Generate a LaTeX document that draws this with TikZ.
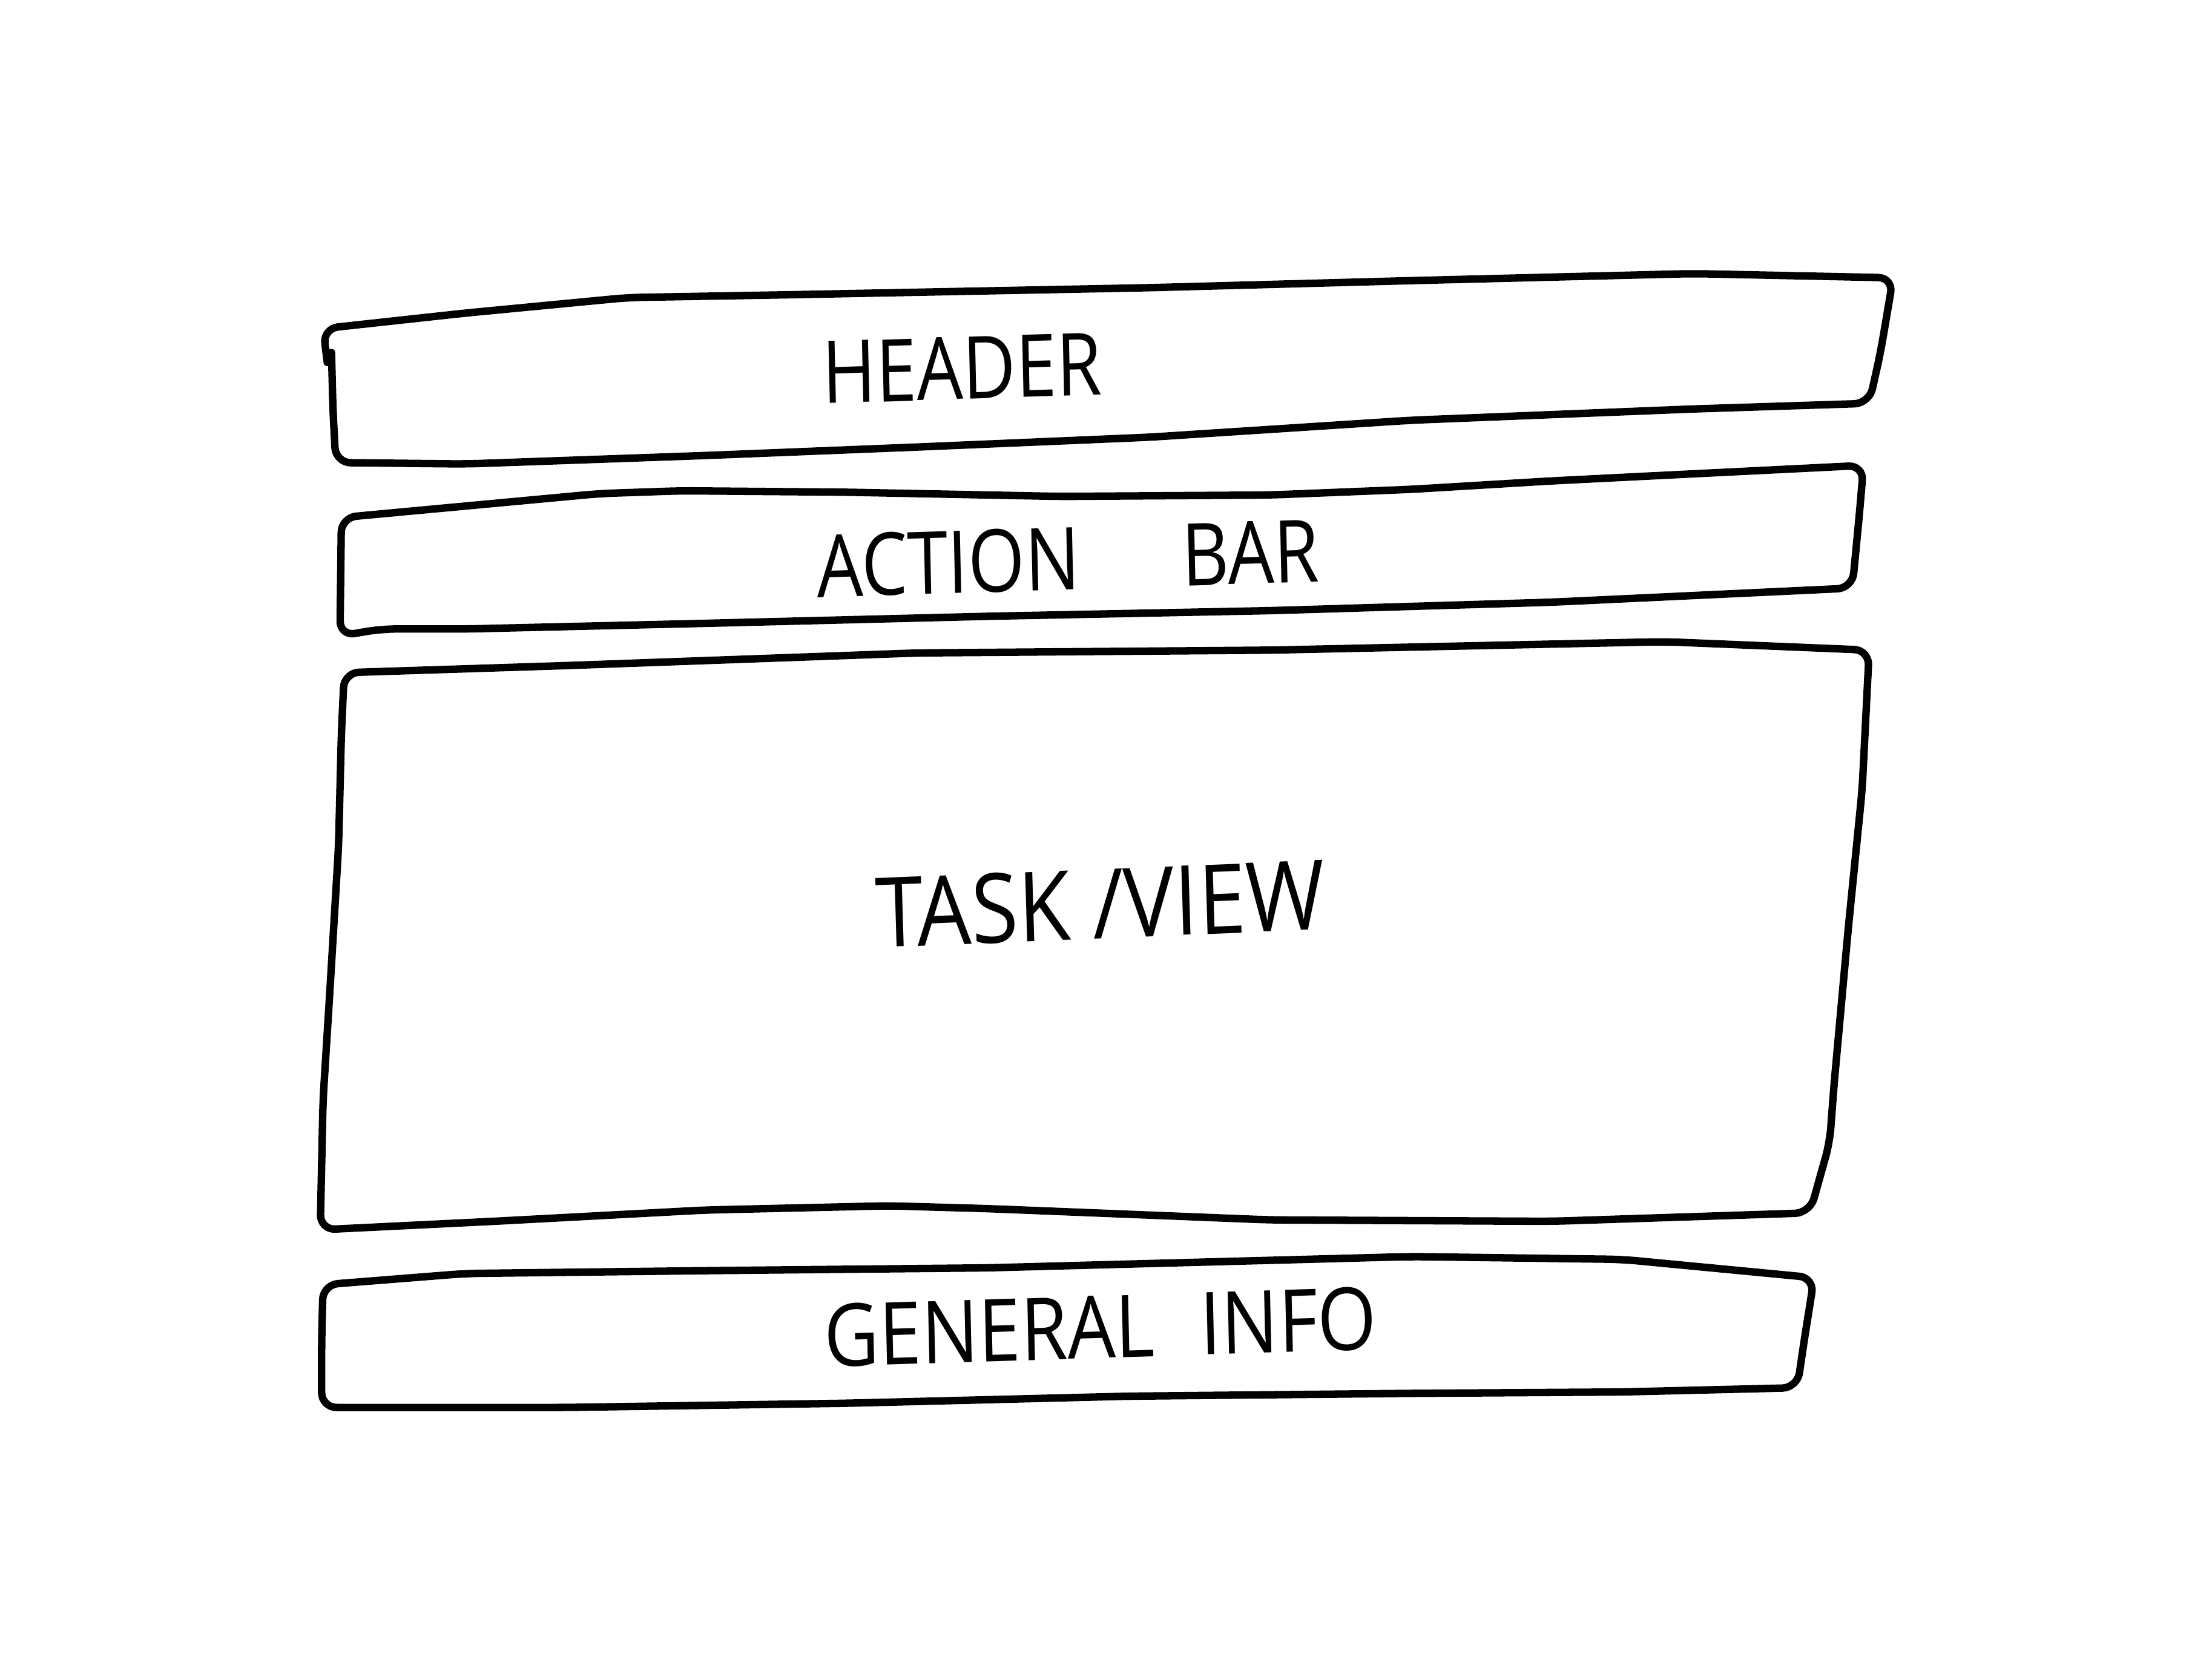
\documentclass[tikz,border=0pt]{standalone}
\usepackage{fontspec}
\setmainfont{Open Sans}
\newcommand{\sketchfont}{\fontsize{17.5}{20}\selectfont}
\tikzset{sketch/.style = {line width=1.5pt, rounded corners=3pt, line cap=round, line join=round}}
\tikzset{boxtext/.style = {font=\sketchfont, inner sep=0pt, xscale=.84, rotate=1.5}}
\begin{document}
\begin{tikzpicture}[x=0.01cm, y=-0.01cm]
        \useasboundingbox (0,0) rectangle (1568,1191);
        % header
        \draw[sketch] (232,257) -- (229,233) -- (330,222) -- (445,211) -- (560,209) -- (815,204) -- (1000,199) -- (1200,194) -- (1342,197) -- (1333,250) -- (1325,286) -- (1200,290) -- (1000,298) -- (815,310) -- (650,317) -- (500,323) -- (330,329) -- (238,328) -- (236,290) -- (235,250);
        \node[boxtext] (header) at (682,261) {HEADER};
        % action bar
        \draw[sketch] (241,451) -- (242,367) -- (425,350) -- (483,348) -- (600,349) -- (751,352) -- (900,351) -- (1000,347) -- (1100,341) -- (1200,336) -- (1321,330) -- (1318,365) -- (1313,417) -- (1100,427) -- (900,433) -- (700,437) -- (500,442) -- (330,446) -- (270,446) -- cycle;
        \node[boxtext] (actionbar) at (757,396) {ACTION\hspace{1.4em}BAR};
        % task / view
        \draw[sketch] (244,477) -- (400,472) -- (650,463) -- (900,461) -- (1180,455) -- (1325,461) -- (1320,560) -- (1310,660) -- (1300,770) -- (1297,810) -- (1283,860) -- (1100,866) -- (900,865) -- (700,857) -- (630,855) -- (500,858) -- (350,866) -- (227,872) -- (229,780) -- (234,700) -- (240,600) -- (242,520) -- cycle;
        \node[boxtext, font=\fontsize{19.5}{22}\selectfont, xscale=1.05, rotate=.5] (taskview) at (780,641) {TASK /VIEW};
        % general info
        \draw[sketch] (229,911) -- (330,903) -- (500,901) -- (700,899) -- (850,895) -- (1000,891) -- (1150,893) -- (1286,906) -- (1279,950) -- (1274,984) -- (1150,987) -- (1000,988) -- (800,990) -- (600,995) -- (400,998) -- (228,998) -- (228,950) -- cycle;
        \node[boxtext, xscale=1.04] (generalinfo) at (780,941) {GENERAL\hspace{0.6em}INFO};
    \end{tikzpicture}
\end{document}
